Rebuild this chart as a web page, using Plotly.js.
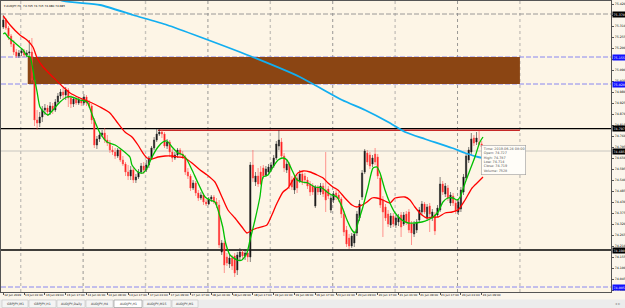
<!DOCTYPE html>
<html><head><meta charset="utf-8">
<script src="https://cdn.plot.ly/plotly-3.0.1.min.js"></script>
<style>html,body{margin:0;padding:0;background:#fbf6ec;}#chart{width:625px;height:308px;}</style>
</head><body><div id="chart"></div>
<script>
// ---- candle data (AUDJPY, H1) ----
const openP = [75.305,75.340,75.300,75.260,75.220,75.180,75.160,75.175,75.185,75.165,
75.175,75.180,75.040,74.840,74.825,74.855,74.890,74.900,74.880,74.910,
74.890,74.930,74.960,74.980,74.965,74.990,74.950,74.920,74.945,74.925,
74.940,74.925,74.955,74.925,74.910,74.840,74.715,74.745,74.765,74.775,
74.740,74.725,74.690,74.680,74.660,74.690,74.640,74.620,74.580,74.560,
74.590,74.540,74.555,74.580,74.610,74.590,74.615,74.650,74.700,74.740,
74.770,74.780,74.770,74.710,74.730,74.680,74.650,74.665,74.690,74.670,
74.655,74.580,74.560,74.500,74.525,74.475,74.450,74.465,74.430,74.420,
74.445,74.455,74.430,74.415,74.180,74.225,74.155,74.120,74.150,74.160,
74.090,74.155,74.180,74.160,74.175,74.155,74.615,74.530,74.560,74.580,
74.600,74.565,74.580,74.590,74.610,74.650,74.710,74.730,74.660,74.590,
74.620,74.540,74.490,74.550,74.535,74.570,74.560,74.540,74.520,74.510,
74.410,74.505,74.480,74.510,74.490,74.495,74.390,74.440,74.475,74.465,
74.445,74.370,74.290,74.250,74.210,74.225,74.275,74.350,74.455,74.580,
74.675,74.665,74.620,74.670,74.655,74.550,74.440,74.405,74.370,74.315,
74.360,74.315,74.330,74.365,74.320,74.370,74.380,74.320,74.270,74.290,
74.340,74.380,74.420,74.350,74.410,74.350,74.365,74.365,74.390,74.520,
74.470,74.500,74.425,74.460,74.425,74.380,74.395,74.480,74.550,74.640,
74.680,74.750,74.730,74.727,74.720,74.705];
const highP = [75.365,75.350,75.310,75.270,75.240,75.195,75.190,75.200,75.195,75.190,
75.240,75.250,75.050,74.890,74.880,74.910,74.920,74.915,74.930,74.925,
74.945,74.975,74.995,75.000,75.005,75.000,74.965,74.955,74.960,74.955,
74.950,74.970,74.965,74.940,74.920,74.850,74.760,74.780,74.790,74.800,
74.765,74.740,74.710,74.700,74.700,74.700,74.660,74.630,74.615,74.610,
74.605,74.570,74.595,74.625,74.630,74.640,74.660,74.710,74.755,74.795,
74.795,74.795,74.780,74.745,74.740,74.695,74.680,74.700,74.700,74.685,
74.665,74.600,74.570,74.540,74.535,74.490,74.480,74.475,74.445,74.455,
74.465,74.465,74.450,74.440,74.240,74.235,74.175,74.165,74.165,74.175,
74.180,74.200,74.190,74.195,74.190,74.630,74.690,74.580,74.600,74.610,
74.615,74.610,74.620,74.630,74.665,74.735,74.790,74.750,74.675,74.640,
74.630,74.560,74.565,74.565,74.590,74.580,74.575,74.555,74.535,74.525,
74.515,74.515,74.525,74.525,74.680,74.510,74.465,74.485,74.490,74.480,
74.455,74.385,74.310,74.270,74.275,74.285,74.385,74.440,74.590,74.695,
74.690,74.680,74.665,74.700,74.670,74.565,74.460,74.420,74.390,74.375,
74.375,74.365,74.370,74.380,74.380,74.385,74.395,74.335,74.335,74.345,
74.405,74.435,74.430,74.420,74.425,74.395,74.380,74.415,74.555,74.535,
74.525,74.515,74.480,74.475,74.440,74.445,74.505,74.570,74.675,74.705,
74.775,74.765,74.780,74.787,74.735,74.715];
const lowP = [75.295,75.290,75.240,75.205,75.165,75.150,75.150,75.160,75.155,75.155,
75.160,75.025,74.810,74.790,74.805,74.830,74.865,74.860,74.865,74.870,
74.880,74.920,74.945,74.940,74.940,74.905,74.900,74.905,74.915,74.915,
74.910,74.915,74.910,74.900,74.820,74.700,74.695,74.730,74.755,74.725,
74.710,74.675,74.665,74.645,74.650,74.630,74.610,74.560,74.540,74.540,
74.525,74.525,74.545,74.570,74.570,74.580,74.600,74.640,74.690,74.730,
74.760,74.750,74.700,74.695,74.655,74.630,74.640,74.650,74.655,74.645,
74.565,74.545,74.485,74.490,74.460,74.435,74.440,74.415,74.410,74.415,
74.430,74.420,74.400,74.200,74.165,74.075,74.110,74.100,74.090,74.055,
74.065,74.140,74.145,74.140,74.130,74.130,74.530,74.510,74.505,74.515,
74.545,74.555,74.565,74.580,74.600,74.640,74.690,74.650,74.580,74.575,
74.495,74.490,74.470,74.475,74.525,74.515,74.520,74.495,74.460,74.465,
74.400,74.465,74.465,74.455,74.380,74.445,74.375,74.425,74.440,74.430,
74.350,74.260,74.205,74.195,74.200,74.205,74.260,74.335,74.440,74.570,
74.615,74.595,74.605,74.615,74.545,74.400,74.255,74.335,74.305,74.300,
74.305,74.300,74.310,74.255,74.310,74.315,74.275,74.215,74.255,74.275,
74.330,74.365,74.370,74.335,74.280,74.335,74.265,74.355,74.380,74.465,
74.455,74.435,74.410,74.410,74.370,74.365,74.380,74.465,74.540,74.625,
74.665,74.710,74.715,74.714,74.695,74.680];
const closeP = [75.340,75.300,75.260,75.220,75.180,75.160,75.175,75.185,75.165,75.175,
75.180,75.040,74.840,74.825,74.855,74.890,74.900,74.880,74.910,74.890,
74.930,74.960,74.980,74.965,74.990,74.950,74.920,74.945,74.925,74.940,
74.925,74.955,74.925,74.910,74.840,74.715,74.745,74.765,74.775,74.740,
74.725,74.690,74.680,74.660,74.690,74.640,74.620,74.580,74.560,74.590,
74.540,74.555,74.580,74.610,74.590,74.615,74.650,74.700,74.740,74.770,
74.780,74.770,74.710,74.730,74.680,74.650,74.665,74.690,74.670,74.655,
74.580,74.560,74.500,74.525,74.475,74.450,74.465,74.430,74.420,74.445,
74.455,74.430,74.415,74.215,74.225,74.115,74.125,74.150,74.110,74.075,
74.165,74.180,74.160,74.175,74.155,74.615,74.550,74.560,74.520,74.520,
74.560,74.595,74.605,74.615,74.650,74.720,74.740,74.660,74.600,74.620,
74.510,74.505,74.550,74.500,74.570,74.530,74.540,74.510,74.480,74.480,
74.505,74.480,74.510,74.470,74.440,74.460,74.450,74.470,74.455,74.445,
74.370,74.280,74.220,74.210,74.260,74.270,74.370,74.420,74.575,74.685,
74.630,74.610,74.650,74.630,74.560,74.415,74.380,74.350,74.320,74.360,
74.320,74.350,74.355,74.305,74.365,74.330,74.290,74.275,74.320,74.330,
74.390,74.420,74.380,74.405,74.370,74.380,74.285,74.400,74.520,74.480,
74.510,74.450,74.465,74.425,74.385,74.430,74.490,74.555,74.660,74.690,
74.745,74.725,74.750,74.719,74.705,74.685];
const barIdx = openP.map((_, i) => i);

// ---- moving averages (bar index, price) ----
const fastX = [0,0.65,1.8,4.5,7.6,9.1,10.3,11.4,13.0,14.1,16.0,17.2,19.1,21.8,24.5,26.4,29.5,32.2,34.5,37.2,39.9,43.0,45.7,48.7,49.5,51.8,53.7,55.3,57.2,59.5,61.4,63.0,64.9,67.2,69.1,70.7,72.6,74.9,77.6,79.5,81.4,82.6,84.4,85.5,87.2,89.9,91.8,93.7,94.9,96.8,98.7,99.9,101.8,103.7,105.7,107.6,109.1,111.0,113.0,114.9,117.2,119.9,122.6,124.5,126.4,128.3,130.3,132.2,134.1,135.3,136.4,138.3,140.3,142.2,143.7,144.9,146.8,148.7,150.7,153.3,155.7,158.3,161.0,163.3,165.3,167.2,169.1,171.0,173.0,174.5,175.7,177.6,179.5,181.4,183.3,184.5];
const fastY = [75.270,75.275,75.255,75.225,75.190,75.160,75.155,75.090,74.980,74.905,74.875,74.865,74.890,74.930,74.955,74.955,74.940,74.930,74.855,74.775,74.730,74.715,74.690,74.655,74.615,74.580,74.575,74.600,74.655,74.705,74.730,74.735,74.705,74.675,74.665,74.640,74.590,74.525,74.455,74.440,74.430,74.390,74.305,74.225,74.165,74.140,74.140,74.175,74.240,74.340,74.455,74.555,74.565,74.605,74.640,74.650,74.640,74.590,74.540,74.530,74.525,74.505,74.500,74.480,74.465,74.455,74.405,74.340,74.290,74.275,74.325,74.405,74.505,74.600,74.605,74.575,74.490,74.425,74.375,74.340,74.325,74.325,74.330,74.340,74.355,74.380,74.430,74.450,74.450,74.440,74.455,74.525,74.590,74.655,74.730,74.755];
const slowX = [0,2.6,6.4,9.1,11.4,13.0,15.3,19.1,23.0,25.7,29.5,33.3,37.2,41.0,43.7,46.8,49.5,51.8,53.7,55.3,57.2,59.5,62.2,64.9,67.2,69.9,72.6,75.7,78.4,81.4,84.1,86.4,89.1,91.8,93.7,95.7,97.6,101.4,103.3,105.3,107.6,109.5,111.4,113.3,115.3,118.0,120.7,123.0,124.9,126.8,128.7,131.4,134.1,136.0,138.0,139.9,141.8,143.7,146.0,148.7,150.7,154.5,156.4,158.3,161.0,163.0,165.3,167.2,169.9,172.6,174.9,177.6,180.3,182.6,184.5];
const slowY = [75.360,75.315,75.265,75.240,75.205,75.150,75.105,75.055,75.005,74.975,74.950,74.930,74.905,74.875,74.830,74.780,74.755,74.715,74.675,74.650,74.645,74.655,74.660,74.660,74.655,74.650,74.625,74.590,74.565,74.530,74.455,74.390,74.350,74.305,74.275,74.290,74.300,74.315,74.365,74.425,74.480,74.500,74.540,74.575,74.585,74.580,74.565,74.550,74.525,74.505,74.490,74.450,74.415,74.405,74.415,74.430,74.450,74.450,74.440,74.425,74.450,74.455,74.440,74.405,74.365,74.350,74.355,74.355,74.375,74.380,74.390,74.440,74.500,74.530,74.555];
const longX = [0,14.1,23.0,37.2,49.9,63.0,75.7,94.9,114.1,130.3,139.1,148.0,154.5,162.2,172.6,177.6,182.6,184.9];
const longY = [75.530,75.480,75.435,75.415,75.365,75.315,75.255,75.160,75.055,74.940,74.890,74.830,74.780,74.745,74.700,74.675,74.655,74.650];

// ---- axis labels ----
const timeTickIdx = [0,8,16,24,32,40,48,56,64,72,80,88,96,104,112,120,128,136,144,152,160,168,176,184];
const timeTickText = ["12 Jun 2019","13 Jun 01:00","13 Jun 09:00","13 Jun 17:00","14 Jun 01:00","14 Jun 09:00","14 Jun 17:00","17 Jun 01:00","17 Jun 09:00","17 Jun 17:00","18 Jun 01:00","18 Jun 09:00","18 Jun 17:00","19 Jun 01:00","19 Jun 09:00","19 Jun 17:00","20 Jun 01:00","20 Jun 09:00","20 Jun 17:00","21 Jun 01:00","21 Jun 09:00","21 Jun 17:00","24 Jun 01:00","24 Jun 09:00"];
const priceTicks = [75.420,75.365,75.310,75.255,75.200,75.145,75.090,75.035,74.980,74.925,74.870,74.815,74.760,74.705,74.650,74.595,74.540,74.485,74.430,74.375,74.320,74.265,74.210,74.155,74.100,74.045,73.990];

// ---- horizontal levels / objects ----
const levelPrice = [75.370, 75.155, 75.020, 74.797, 74.685, 74.190, 74.005];
const levelKind  = ["grey", "blue", "blue", "black", "bid", "black", "blue"];
const zonePrice = [75.020, 75.155];
const zoneIdx = [9.4, 198.7];
const bandPrice = [74.785, 74.7925];
const bandIdx = [59.5, 198.7];
const gridIdx = [6.7, 30.7, 54.7, 78.7, 102.7, 126.7, 150.7, 174.7, 198.7];
const tabs = ["GBPJPY,M1","GBPJPY,H1","AUDJPY,Daily","AUDJPY,H4","AUDJPY,H1","AUDJPY,M15","AUDJPY,M1"];
const tabPx = [[2,28],[29,56],[57,85],[86,113],[114,142],[143,171],[172,198]];
const tip = {time:"2019.06.24 08:00", open:"74.727", high:"74.787", low:"74.714", close:"74.719", volume:"7528"};
const tipIdx = 183.7, tipPrice = 74.716;

const FONT = "DejaVu Sans, Liberation Sans, sans-serif";
const shapes = [];
const annotations = [];

gridIdx.forEach((g, k) => {
  shapes.push({type:'line', xref:'x', yref:'paper', x0:g, x1:g, y0:0, y1:1, layer:'below',
    line: k % 2 === 0 ? {color:'#c8c4bc', width:1.4, dash:'dot'} : {color:'#808080', width:0.8, dash:'dot'}});
});
shapes.push({type:'rect', xref:'x', yref:'y', x0:zoneIdx[0], x1:zoneIdx[1], y0:zonePrice[0], y1:zonePrice[1],
  fillcolor:'#8b4513', line:{width:0}, layer:'below'});
const styleOf = {
  grey:{color:'#8e8e8e', width:0.9, dash:'5px,2px'},
  blue:{color:'#7c7cf2', width:0.9, dash:'5px,2px'},
  black:{color:'#000000', width:1.3, dash:'solid'},
  bid:{color:'#c8c6c0', width:1, dash:'solid'}
};
const labelBg = {grey:'#000000', blue:'#1010ff', black:'#000000', bid:'#000000'};
levelPrice.forEach((p, k) => {
  const kind = levelKind[k];
  shapes.push({type:'line', xref:'paper', yref:'y', x0:0, x1:1, y0:p, y1:p, layer:'below', line:styleOf[kind]});
  annotations.push({xref:'paper', yref:'y', x:1, y:p, xanchor:'left', yanchor:'middle', xshift:1,
    text:p.toFixed(3), showarrow:false, font:{family:FONT, size:3.2, color:'#ffffff'},
    bgcolor:labelBg[kind], borderpad:0.6});
});
shapes.push({type:'rect', xref:'x', yref:'y', x0:bandIdx[0], x1:bandIdx[1], y0:bandPrice[0], y1:bandPrice[1],
  fillcolor:'#c62828', line:{width:0}, layer:'below'});

// tab bar
const H = 291, W = 610;
const py = v => (292 - v) / H;
const px = v => (v - 1) / W;
shapes.push({type:'rect', xref:'paper', yref:'paper', x0:px(0), x1:px(625), y0:py(299.5), y1:py(309),
  fillcolor:'#ececec', line:{width:0}});
tabs.forEach((t, k) => {
  const [a, b] = tabPx[k];
  const active = t === "AUDJPY,H1";
  shapes.push({type:'rect', xref:'paper', yref:'paper', x0:px(a), x1:px(b), y0:py(300), y1:py(307.5),
    fillcolor: active ? '#ffffff' : '#f4f4f4', line:{color: active ? '#8a8a8a' : '#c4c4c4', width:0.6}});
  annotations.push({xref:'paper', yref:'paper', x:px((a+b)/2), y:py(303.8), text:t, showarrow:false,
    font:{family:FONT, size:3.2, color:'#333'}, xanchor:'center', yanchor:'middle'});
});
annotations.push({xref:'paper', yref:'paper', x:px(617), y:py(303.8), text:'◂ ▸', showarrow:false,
  font:{family:FONT, size:4, color:'#999'}, xanchor:'center', yanchor:'middle'});

// title
const last = openP.length - 1;
annotations.push({xref:'paper', yref:'paper', x:0, y:1, xanchor:'left', yanchor:'top', xshift:1, yshift:-1,
  text:'▾ AUDJPY,H1  ' + [openP[last], highP[last], lowP[last], closeP[last]].map(v => v.toFixed(3)).join(' '),
  showarrow:false, font:{family:FONT, size:2.8, color:'#000'}});

// tooltip
annotations.push({xref:'x', yref:'y', x:tipIdx, y:tipPrice, xanchor:'left', yanchor:'top', align:'left',
  text:'Time: '+tip.time+'<br>Open: '+tip.open+'<br>High: '+tip.high+'<br>Low: '+tip.low+'<br>Close: '+tip.close+'<br>Volume: '+tip.volume,
  showarrow:false, font:{family:FONT, size:3.4, color:'#555'}, bgcolor:'#fffdf8', bordercolor:'#9a9a9a', borderwidth:0.6, borderpad:1.2});

const traces = [
  {type:'candlestick', x:barIdx, open:openP, high:highP, low:lowP, close:closeP,
   increasing:{line:{color:'#303030', width:0.6}, fillcolor:'#000000'},
   decreasing:{line:{color:'#ff5050', width:0.6}, fillcolor:'#ff0000'},
   whiskerwidth:0, hoverinfo:'skip'},
  {type:'scatter', mode:'lines', x:longX, y:longY, line:{color:'#12aef0', width:1.8, shape:'spline', smoothing:0.6}, hoverinfo:'skip'},
  {type:'scatter', mode:'lines', x:slowX, y:slowY, line:{color:'#ff0000', width:1.3, shape:'spline', smoothing:0.6}, hoverinfo:'skip'},
  {type:'scatter', mode:'lines', x:fastX, y:fastY, line:{color:'#00c000', width:1.3, shape:'spline', smoothing:0.6}, hoverinfo:'skip'}
];

const layout = {
  width:625, height:308,
  margin:{l:1, r:14, t:1, b:16},
  paper_bgcolor:'#fbf6ec', plot_bgcolor:'#fdf5e6',
  showlegend:false,
  xaxis:{range:[-0.885, 233.73], showgrid:false, zeroline:false, rangeslider:{visible:false},
    tickvals:timeTickIdx, ticktext:timeTickText, ticks:'outside', ticklen:2, tickcolor:'#555', tickangle:0,
    ticklabelposition:'outside right', tickfont:{family:FONT, size:2.8, color:'#000'},
    showline:true, linecolor:'#555', linewidth:1, mirror:true, fixedrange:true},
  yaxis:{range:[73.98, 75.435], side:'right', showgrid:false, zeroline:false,
    tickvals:priceTicks, ticktext:priceTicks.map(v => v.toFixed(3)), ticks:'outside', ticklen:2, tickcolor:'#555',
    tickfont:{family:FONT, size:3.2, color:'#000'},
    showline:true, linecolor:'#555', linewidth:1, mirror:true, fixedrange:true},
  shapes:shapes, annotations:annotations,
  font:{family:FONT}
};
Plotly.newPlot('chart', traces, layout, {staticPlot:true, displayModeBar:false});
</script></body></html>
